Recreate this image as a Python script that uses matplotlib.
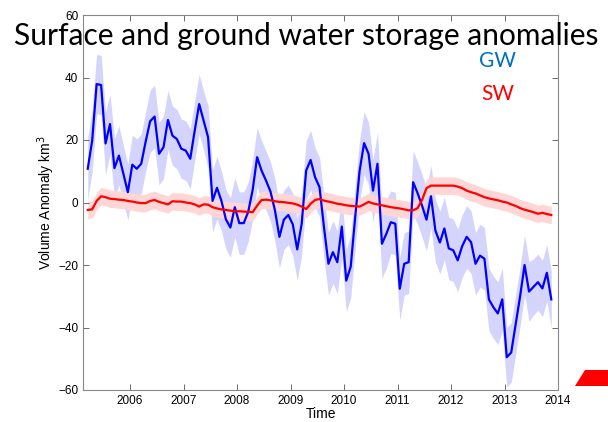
import numpy as np
import matplotlib
matplotlib.use("Agg")
import matplotlib.pyplot as plt
from matplotlib.patches import Polygon

# monthly values, Mar 2005 .. Nov 2013
start_year = 2005
start_month = 3

gw = [10.8, 19.8, 37.9, 37.6, 18.9, 25.1, 11.0, 15.0, 9.2, 3.3,
      12.1, 10.8, 12.4, 19.5, 26.0, 27.5, 15.6, 17.7, 26.4, 21.4,
      20.3, 17.2, 16.6, 14.0, 23.0, 31.5, 26.2, 20.9, 0.5, 4.7,
      0.5, -5.4, -8.0, -1.5, -6.6, -6.6, -3.0, 4.0, 14.5, 10.2,
      7.0, 3.5, -2.5, -11.0, -5.5, -4.0, -7.0, -15.0, -6.8, 10.2,
      13.6, 8.1, 4.9, -7.9, -19.6, -15.9, -19.1, -7.7, -25.0, -20.5,
      -4.7, 10.2, 19.0, 15.6, 3.8, 12.4, -13.2, -10.0, -6.3, -6.8,
      -27.6, -19.6, -19.1, 6.5, 3.0, -1.0, -5.5, 2.0, -9.0, -12.8,
      -8.3, -14.7, -15.3, -18.5, -14.0, -11.0, -12.7, -19.6, -17.0, -18.0,
      -31.0, -33.5, -35.5, -31.0, -49.5, -48.0, -39.0, -30.0, -20.0, -28.5,
      -27.0, -25.5, -27.5, -22.5, -31.0]

gw_err = [10, 10, 9.5, 9.5, 10, 9.5, 9.5, 9.5, 9, 9,
          9.5, 9.5, 9.5, 9.5, 10, 10, 10, 10, 9.5, 9.5,
          9.5, 9.5, 9.5, 9.5, 9.5, 9.5, 9.5, 10, 10, 10,
          9.5, 9.5, 9.5, 9.5, 10, 10, 9.5, 9.5, 9.5, 9.5,
          9.5, 9.5, 10, 10, 9.5, 9.5, 10, 10, 10, 9.5,
          9.5, 9.5, 9.5, 10, 10, 10, 10, 10, 10, 10,
          10, 10, 10, 10, 10, 10, 11, 11, 10, 10,
          10, 10, 10, 10, 10, 10, 10, 10, 10, 10,
          10, 10, 10, 10, 10, 10, 10, 10, 10, 10,
          10, 10, 10, 10, 9.5, 9.5, 9.5, 9.5, 9.5, 9.5,
          9, 9, 9, 9, 9]

sw = [-2.4, -2.2, 0.5, 2.0, 1.7, 1.2, 1.1, 0.9, 0.8, 0.5,
      0.3, 0.0, -0.2, -0.2, 0.5, 0.8, 0.2, -0.2, -0.6, 0.4,
      0.3, 0.3, 0.0, -0.2, -0.6, -1.3, -0.6, -0.7, -1.5, -1.9,
      -2.2, -2.4, -2.6, -2.8, -2.8, -2.9, -3.0, -3.1, -1.0, 0.8,
      0.9, 0.7, 0.4, 0.2, 0.1, -0.1, -0.3, -0.7, -1.3, -2.1,
      -0.4, 0.8, 1.1, 0.6, 0.3, 0.0, -0.4, -0.6, -0.9, -1.1,
      -1.2, -1.3, -0.6, 0.2, -0.3, -0.6, -0.9, -1.2, -1.5, -1.7,
      -1.9, -2.2, -2.5, -2.5, -1.8, 0.8, 4.6, 5.4, 5.4, 5.4,
      5.4, 5.4, 5.4, 5.1, 4.6, 3.8, 3.3, 2.9, 2.3, 1.7,
      1.3, 1.0, 0.7, 0.3, 0.0, -0.6, -1.1, -1.8, -2.3, -2.7,
      -3.1, -3.6, -3.3, -3.7, -4.0]
sw_err = 2.8

year_ticks = [2006, 2007, 2008, 2009, 2010, 2011, 2012, 2013, 2014]
y_ticks = [-60, -40, -20, 0, 20, 40, 60]

months = np.arange(len(gw)) + start_month - 1
t = start_year + (months + 0.5) / 12.0
gw = np.array(gw)
gw_err = np.array(gw_err)
sw = np.array(sw)

plt.rcParams['font.family'] = ['Liberation Sans', 'DejaVu Sans']

fig = plt.figure(figsize=(6.08, 4.22), dpi=100)
ax = fig.add_axes([83 / 608, 32 / 422, 475 / 608, 375 / 422])

ax.fill_between(t, gw - gw_err, gw + gw_err, color='#d4d4fc', linewidth=0)
ax.fill_between(t, sw - sw_err, sw + sw_err, color='#ffd6d6', linewidth=0)
ax.plot(t, gw, color='#0000ff', linewidth=1.6)
ax.plot(t, sw, color='#ff0000', linewidth=1.6)

ax.set_xlim(2005.12, 2014)
ax.set_ylim(-60, 60)
ax.set_xticks(year_ticks)
ax.set_yticks(y_ticks)
ax.tick_params(direction='in', top=True, right=True, labelsize=8.5,
               length=4, width=0.6, color='#555555')
for s in ax.spines.values():
    s.set_color('#888888')
    s.set_linewidth(0.8)

ax.set_xlabel('Time', fontsize=10, labelpad=0)
ax.set_ylabel('Volume Anomaly km$^3$', fontsize=10, labelpad=1)

fig.text(0.503, 0.914, 'Surface and ground water storage anomalies',
         family=['Lato', 'DejaVu Sans'], fontsize=21.5, ha='center', va='center')
fig.text(0.818, 0.856, 'GW', family=['Lato', 'DejaVu Sans'], fontsize=15,
         color='#0070c0', ha='center', va='center')
fig.text(0.818, 0.778, 'SW', family=['Lato', 'DejaVu Sans'], fontsize=15,
         color='#ff0000', ha='center', va='center')

# slide decoration in the corner
fig.patches.append(Polygon([[585 / 608, 52 / 422], [1, 52 / 422],
                            [1, 36 / 422], [575 / 608, 36 / 422]],
                           closed=True, transform=fig.transFigure,
                           facecolor='#ff0000', edgecolor='none'))

fig.savefig('out.png', dpi=100)
